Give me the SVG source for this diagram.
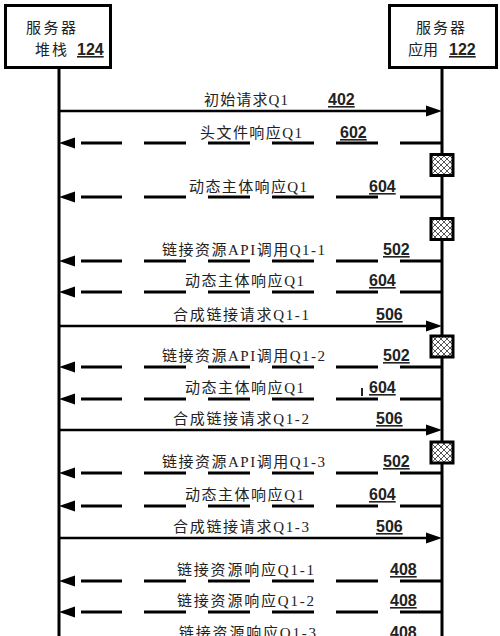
<svg xmlns="http://www.w3.org/2000/svg" width="500" height="636" viewBox="0 0 500 636">
<style>
.box{fill:#fff;stroke:#000;stroke-width:3}
.life{stroke:#000;stroke-width:3;fill:none}
.act{fill:url(#hatch);stroke:#000;stroke-width:3}
.solid{stroke:#000;stroke-width:2.5;fill:none}
.dash{stroke:#000;stroke-width:3;fill:none;stroke-dasharray:42 22}
.head{fill:#000}
.lbl{font-family:"Liberation Serif","Noto Sans CJK SC",serif;font-size:15px;fill:#222}
.num{font-family:"Liberation Sans",Arial,sans-serif;font-size:16px;font-weight:bold;fill:#222;text-decoration:underline}
</style>
<defs>
<pattern id="hatch" width="6" height="6" patternUnits="userSpaceOnUse">
<rect width="6" height="6" fill="#fff"/>
<path d="M0,0L6,6M6,0L0,6" stroke="#555" stroke-width="1"/>
</pattern>
</defs>
<rect width="500" height="636" fill="#fff"/>
<g id="server-stack">
<rect class="box" x="5.5" y="5.5" width="105" height="62"/>
<text class="lbl" x="26" y="33" textLength="50" lengthAdjust="spacing">服务器</text>
<text class="lbl" x="35" y="55" textLength="32" lengthAdjust="spacing">堆栈</text>
<text class="num" x="77" y="55">124</text>
<line class="life" x1="59" y1="68" x2="59" y2="636"/>
</g>
<g id="server-app">
<rect class="box" x="389.5" y="5.5" width="107" height="62"/>
<text class="lbl" x="416" y="33" textLength="49" lengthAdjust="spacing">服务器</text>
<text class="lbl" x="408" y="55" textLength="30" lengthAdjust="spacing">应用</text>
<text class="num" x="449" y="55">122</text>
<line class="life" x1="442" y1="68" x2="442" y2="636"/>
</g>
<g id="connectors">
<!-- 402 -->
<line class="solid" x1="59" y1="111" x2="428" y2="111"/>
<polygon class="head" points="442,111 426,105.5 426,116.5"/>
<text class="lbl" x="204" y="105" textLength="84" lengthAdjust="spacing">初始请求Q1</text>
<text class="num" x="328" y="105">402</text>
<!-- 602 -->
<line class="dash" x1="442" y1="143" x2="81" y2="143"/>
<polygon class="head" points="59,143 75,137.5 75,148.5"/>
<text class="lbl" x="200" y="138" textLength="102" lengthAdjust="spacing">头文件响应Q1</text>
<text class="num" x="340" y="138">602</text>
<!-- 604 -->
<line class="dash" x1="442" y1="197" x2="81" y2="197"/>
<polygon class="head" points="59,197 75,191.5 75,202.5"/>
<text class="lbl" x="189" y="192" textLength="118" lengthAdjust="spacing">动态主体响应Q1</text>
<text class="num" x="369" y="192">604</text>
<!-- 502 Q1-1 -->
<line class="dash" x1="442" y1="261" x2="81" y2="261"/>
<polygon class="head" points="59,261 75,255.5 75,266.5"/>
<text class="lbl" x="162" y="255" textLength="163" lengthAdjust="spacing">链接资源API调用Q1-1</text>
<text class="num" x="383" y="255">502</text>
<!-- 604 -->
<line class="dash" x1="442" y1="292" x2="81" y2="292"/>
<polygon class="head" points="59,292 75,286.5 75,297.5"/>
<text class="lbl" x="185" y="286" textLength="119" lengthAdjust="spacing">动态主体响应Q1</text>
<text class="num" x="369" y="286">604</text>
<!-- 506 Q1-1 -->
<line class="solid" x1="59" y1="326" x2="428" y2="326"/>
<polygon class="head" points="442,326 426,320.5 426,331.5"/>
<text class="lbl" x="173" y="320" textLength="136" lengthAdjust="spacing">合成链接请求Q1-1</text>
<text class="num" x="376" y="320">506</text>
<!-- 502 Q1-2 -->
<line class="dash" x1="442" y1="367" x2="81" y2="367"/>
<polygon class="head" points="59,367 75,361.5 75,372.5"/>
<text class="lbl" x="162" y="361" textLength="163" lengthAdjust="spacing">链接资源API调用Q1-2</text>
<text class="num" x="383" y="361">502</text>
<!-- 604 -->
<line class="dash" x1="442" y1="399" x2="81" y2="399"/>
<polygon class="head" points="59,399 75,393.5 75,404.5"/>
<text class="lbl" x="185" y="393" textLength="119" lengthAdjust="spacing">动态主体响应Q1</text>
<line x1="362" y1="388" x2="362" y2="396" stroke="#222" stroke-width="2"/>
<text class="num" x="369" y="393">604</text>
<!-- 506 Q1-2 -->
<line class="solid" x1="59" y1="430" x2="428" y2="430"/>
<polygon class="head" points="442,430 426,424.5 426,435.5"/>
<text class="lbl" x="173" y="424" textLength="136" lengthAdjust="spacing">合成链接请求Q1-2</text>
<text class="num" x="376" y="424">506</text>
<!-- 502 Q1-3 -->
<line class="dash" x1="442" y1="473" x2="81" y2="473"/>
<polygon class="head" points="59,473 75,467.5 75,478.5"/>
<text class="lbl" x="162" y="467" textLength="163" lengthAdjust="spacing">链接资源API调用Q1-3</text>
<text class="num" x="383" y="467">502</text>
<!-- 604 -->
<line class="dash" x1="442" y1="506" x2="81" y2="506"/>
<polygon class="head" points="59,506 75,500.5 75,511.5"/>
<text class="lbl" x="185" y="500" textLength="119" lengthAdjust="spacing">动态主体响应Q1</text>
<text class="num" x="369" y="500">604</text>
<!-- 506 Q1-3 -->
<line class="solid" x1="59" y1="538" x2="428" y2="538"/>
<polygon class="head" points="442,538 426,532.5 426,543.5"/>
<text class="lbl" x="173" y="532" textLength="136" lengthAdjust="spacing">合成链接请求Q1-3</text>
<text class="num" x="376" y="532">506</text>
<!-- 408 Q1-1 -->
<line class="dash" x1="442" y1="581" x2="81" y2="581"/>
<polygon class="head" points="59,581 75,575.5 75,586.5"/>
<text class="lbl" x="177" y="575" textLength="137" lengthAdjust="spacing">链接资源响应Q1-1</text>
<text class="num" x="390" y="575">408</text>
<!-- 408 Q1-2 -->
<line class="dash" x1="442" y1="612" x2="81" y2="612"/>
<polygon class="head" points="59,612 75,606.5 75,617.5"/>
<text class="lbl" x="177" y="606" textLength="137" lengthAdjust="spacing">链接资源响应Q1-2</text>
<text class="num" x="390" y="606">408</text>
<!-- 408 Q1-3 -->
<text class="lbl" x="179" y="638" textLength="137" lengthAdjust="spacing">链接资源响应Q1-3</text>
<text class="num" x="390" y="638">408</text>
</g>
<g id="processing-1"><rect class="act" x="431" y="154.5" width="22" height="21"/></g>
<g id="processing-2"><rect class="act" x="431" y="218.5" width="22" height="21"/></g>
<g id="processing-3"><rect class="act" x="431" y="336" width="22" height="21"/></g>
<g id="processing-4"><rect class="act" x="431" y="442" width="22" height="21"/></g>
</svg>
